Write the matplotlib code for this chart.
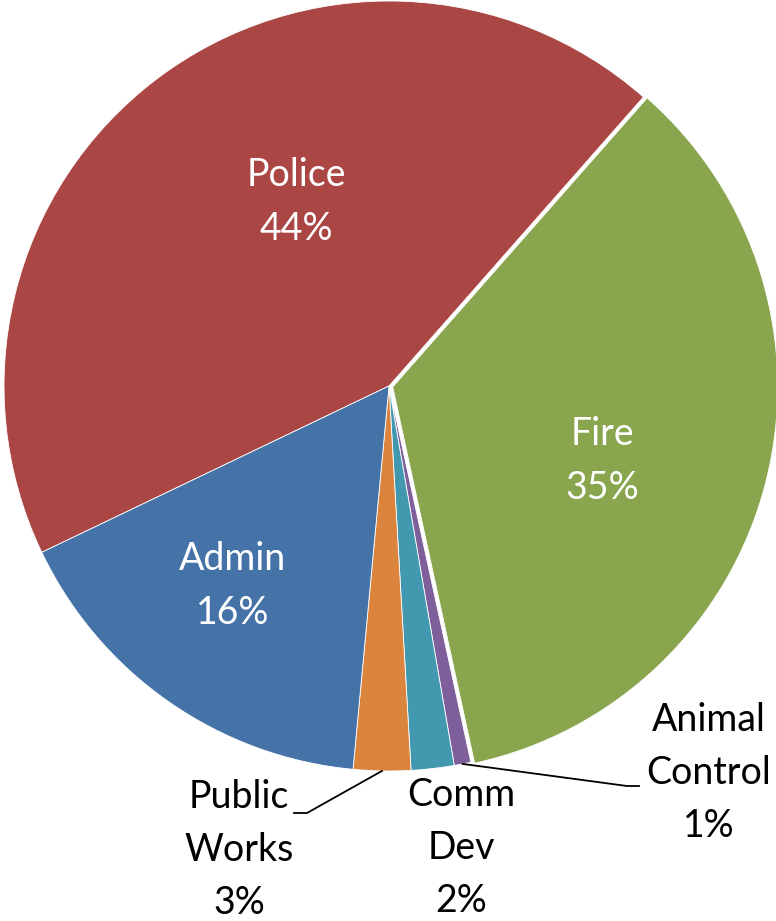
import numpy as np
import matplotlib.pyplot as plt

# slice data (clockwise from the Police slice)
departments = ["Police", "Fire", "Animal\nControl", "Comm\nDev", "Public\nWorks", "Admin"]
shares = [43.6, 35.1, 0.7, 1.8, 2.4, 16.4]
pct_text = ["44%", "35%", "1%", "2%", "3%", "16%"]
colors = ["#AA4643", "#89A54E", "#7E5F9B", "#4198AF", "#DB843D", "#4572A7"]

W, H = 776, 921
CX, CY, R = 389, 386, 385


def px(x, y):
    # pixel position in the image -> data coordinates of the pie axes
    return (x - CX) / R, (CY - y) / R


def main():
    plt.rcParams["font.family"] = ["Lato", "DejaVu Sans"]

    fig = plt.figure(figsize=(W / 100, H / 100), dpi=100)
    ax = fig.add_axes([0, 0, 1, 1])

    explode = [0, 0.01, 0, 0, 0, 0]
    wedges, _ = ax.pie(
        shares,
        colors=colors,
        explode=explode,
        startangle=205.6,
        counterclock=False,
        radius=1,
        wedgeprops=dict(edgecolor="white", linewidth=0.6),
    )

    ax.set_xlim(-CX / R, (W - CX) / R)
    ax.set_ylim(-(H - CY) / R, CY / R)
    ax.set_aspect("equal")
    ax.axis("off")

    # label centres (pixels) and text colour
    label_pos = [(296, 202), (602, 461), (709, 773), (461, 848), (239, 850), (233, 586)]
    inside = [True, True, False, False, False, True]

    for i, name in enumerate(departments):
        x, y = px(*label_pos[i])
        ax.text(x, y, f"{name}\n{pct_text[i]}", ha="center", va="center",
                fontsize=27, linespacing=1.6,
                color="white" if inside[i] else "black")

    # leader lines for the small outside labels
    elbows = {2: [(627, 786), (639, 786)], 4: [(307, 813), (294, 813)]}
    for i, pts in elbows.items():
        w = wedges[i]
        mid = np.deg2rad((w.theta1 + w.theta2) / 2)
        cx0, cy0 = w.center
        xs = [cx0 + w.r * np.cos(mid)] + [px(*p)[0] for p in pts]
        ys = [cy0 + w.r * np.sin(mid)] + [px(*p)[1] for p in pts]
        ax.plot(xs, ys, color="black", linewidth=1.3)

    fig.savefig("out.png", dpi=100)
    plt.close(fig)


if __name__ == "__main__":
    main()
